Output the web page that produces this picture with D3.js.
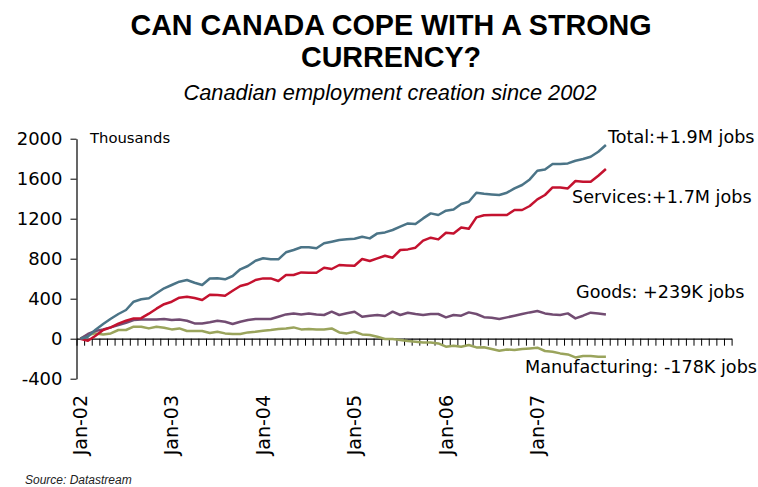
<!DOCTYPE html>
<html lang="en">
    <head>
        <meta charset="utf-8">
        <title>Canadian employment</title>
        <script src="https://cdn.jsdelivr.net/npm/d3@7/dist/d3.min.js" charset="utf-8"></script>
        <style type="text/css">
            body { margin: 0; background: #fff; }
            .axis path, .axis line { stroke: #000; }
            .num { font-family: "DejaVu Sans", Verdana, sans-serif; }
        </style>
    </head>
    <body>
        <svg width="758" height="487"></svg>
        <script>
            // Empleo acumulado desde ene-2002, miles
            var total = [0, 20, 90, 147, 200, 247, 287, 370, 394, 404,
                454, 504, 537, 570, 587, 560, 537, 602, 604, 594,
                627, 694, 727, 780, 804, 794, 794, 864, 887, 914,
                914, 904, 954, 970, 987, 995, 1000, 1020, 1003, 1053,
                1063, 1087, 1120, 1153, 1147, 1203, 1253, 1237, 1280, 1293,
                1347, 1370, 1460, 1450, 1443, 1437, 1460, 1503, 1537, 1593,
                1680, 1693, 1747, 1747, 1753, 1780, 1797, 1820, 1870, 1937];
            var services = [0, -20, 30, 87, 113, 150, 180, 203, 205, 250,
                300, 345, 370, 410, 420, 407, 387, 440, 437, 430,
                480, 527, 547, 587, 603, 603, 577, 637, 637, 663,
                660, 660, 710, 697, 737, 733, 730, 797, 777, 803,
                830, 810, 887, 893, 910, 980, 1010, 993, 1060, 1053,
                1113, 1100, 1213, 1235, 1237, 1237, 1237, 1287, 1287, 1327,
                1393, 1437, 1513, 1513, 1503, 1577, 1570, 1570, 1630, 1697];
            var goods = [0, 47, 77, 93, 113, 137, 160, 187, 193, 193,
                193, 197, 187, 193, 180, 153, 153, 165, 180, 170,
                147, 170, 187, 197, 197, 197, 220, 243, 253, 243,
                253, 243, 237, 270, 237, 255, 270, 220, 230, 237,
                227, 270, 237, 260, 247, 237, 247, 247, 213, 237,
                230, 263, 247, 215, 210, 197, 213, 230, 247, 263,
                277, 253, 243, 237, 253, 203, 230, 260, 253, 243];
            var manufacturing = [0, 37, 53, 43, 53, 87, 87, 120, 120, 103,
                120, 110, 93, 103, 77, 77, 77, 57, 70, 53,
                47, 47, 63, 70, 80, 87, 97, 103, 113, 93,
                97, 93, 93, 103, 63, 53, 70, 43, 37, 20,
                -3, -3, -13, -23, -30, -37, -37, -47, -80, -70,
                -80, -63, -87, -85, -103, -120, -107, -113, -103, -97,
                -90, -123, -130, -147, -157, -187, -173, -173, -180, -180];

            var xLabels = ["Jan-02", "Jan-03", "Jan-04", "Jan-05", "Jan-06", "Jan-07"];
            var yTicks = [-400, 0, 400, 800, 1200, 1600, 2000];
            var nSlots = 86; // huecos de categoria en el eje (el eje sigue tras los datos)

            var series = [
                {name: "Total:+1.9M jobs", values: total, color: "#4b7487", lx: 608, ly: 143},
                {name: "Services:+1.7M jobs", values: services, color: "#c4122f", lx: 572, ly: 203},
                {name: "Goods: +239K jobs", values: goods, color: "#724c72", lx: 576, ly: 298},
                {name: "Manufacturing: -178K jobs", values: manufacturing, color: "#9aa45c", lx: 525, ly: 373}
            ];

            var svg = d3.select("svg");

            var x = d3.scaleLinear().domain([0, nSlots]).range([76.5, 731.6]);
            var y = d3.scaleLinear().domain([-400, 2000]).range([378.7, 138.7]);

            // Titulos
            svg.append("text")
                .attr("x", 391).attr("y", 35)
                .attr("text-anchor", "middle")
                .attr("font-family", "Liberation Sans, Arial, sans-serif")
                .attr("font-weight", "bold")
                .attr("font-size", 28.7)
                .text("CAN CANADA COPE WITH A STRONG");
            svg.append("text")
                .attr("x", 391).attr("y", 67)
                .attr("text-anchor", "middle")
                .attr("font-family", "Liberation Sans, Arial, sans-serif")
                .attr("font-weight", "bold")
                .attr("font-size", 28.7)
                .text("CURRENCY?");
            svg.append("text")
                .attr("x", 390).attr("y", 100)
                .attr("text-anchor", "middle")
                .attr("font-family", "Liberation Sans, Arial, sans-serif")
                .attr("font-style", "italic")
                .attr("font-size", 21.8)
                .text("Canadian employment creation since 2002");

            // Eje Y
            var yAxis = svg.append("g")
                .attr("class", "axis num")
                .attr("transform", "translate(" + x(0) + ",0)")
                .call(d3.axisLeft(y).tickValues(yTicks).tickSize(6).tickSizeOuter(0).tickPadding(8)
                    .tickFormat(function(d) { return String(d); }));
            yAxis.selectAll("text").attr("font-size", 18).attr("fill", "#000").attr("font-family", "DejaVu Sans, Verdana, sans-serif");
            yAxis.select(".domain").attr("stroke-width", 1.2);

            svg.append("text")
                .attr("class", "num")
                .attr("x", 90).attr("y", 143)
                .attr("font-size", 14.8)
                .text("Thousands");

            // Eje X en el cero, una marca por mes
            var xAxis = svg.append("g")
                .attr("class", "axis")
                .attr("transform", "translate(0," + y(0) + ")")
                .call(d3.axisBottom(x).tickValues(d3.range(0, nSlots + 1)).tickSize(7).tickSizeOuter(0).tickFormat(""));
            xAxis.select(".domain").attr("stroke-width", 1.2);

            svg.append("g")
                .selectAll("text")
                .data(xLabels)
                .enter().append("text")
                .attr("class", "num")
                .attr("font-size", 19)
                .attr("text-anchor", "end")
                .attr("dy", "0.35em")
                .attr("transform", function(d, i) { return "translate(" + x(i * 12 + 0.5) + ",395) rotate(-90)"; })
                .text(function(d) { return d; });

            // Lineas
            var line = d3.line()
                .x(function(d, i) { return x(i + 0.5); })
                .y(function(d) { return y(d); });

            svg.append("g")
                .selectAll("path")
                .data(series.slice().reverse())
                .enter().append("path")
                .attr("fill", "none")
                .attr("stroke", function(d) { return d.color; })
                .attr("stroke-width", 2.5)
                .attr("stroke-linejoin", "round")
                .attr("d", function(d) { return line(d.values); });

            svg.append("g")
                .selectAll("text")
                .data(series)
                .enter().append("text")
                .attr("class", "num")
                .attr("font-size", 17.6)
                .attr("x", function(d) { return d.lx; })
                .attr("y", function(d) { return d.ly; })
                .text(function(d) { return d.name; });

            svg.append("text")
                .attr("x", 25).attr("y", 484)
                .attr("font-family", "Liberation Sans Narrow, Liberation Sans, Arial, sans-serif")
                .attr("font-style", "italic")
                .attr("font-size", 12)
                .attr("fill", "#222")
                .text("Source: Datastream");
        </script>
    </body>
</html>
